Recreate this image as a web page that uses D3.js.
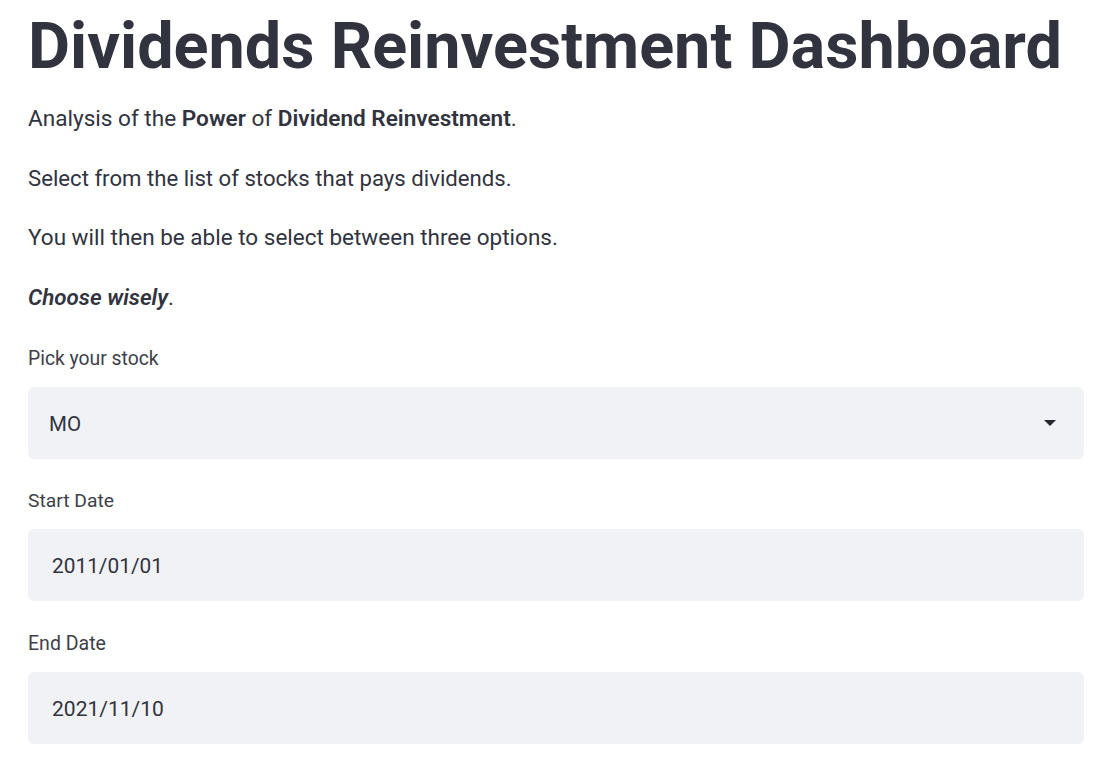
<!DOCTYPE html>
<html><head><meta charset="utf-8">
<script src="https://cdn.jsdelivr.net/npm/d3@7"></script>
<style>html,body{margin:0;padding:0;background:#fff;overflow:hidden}</style>
</head><body>
<svg id="c" width="1106" height="765"></svg>
<script>
const titleText = "Dividends Reinvestment Dashboard";
const introParts = [["Analysis of the ",400],["Power",600],[" of ",400],["Dividend Reinvestment",600],[".",400]];
const paragraphs = ["Select from the list of stocks that pays dividends.","You will then be able to select between three options."];
const emphText = [["Choose wisely",600,"italic"],[".",400,"normal"]];
const widgetLabels = ["Pick your stock","Start Date","End Date"];
const widgetValues = ["MO","2011/01/01","2021/11/10"];

const svg = d3.select("#c");
const FONT = "'Source Sans Pro', Roboto, 'Noto Sans', sans-serif";
const INK = "#31333F";

function fit(sel, target){
  const fs = parseFloat(sel.attr("font-size"));
  const w = sel.node().getBBox().width;
  sel.attr("font-size", fs*target/w);
}
function line(x, y, parts, size, target){
  const t = svg.append("text").attr("x",x).attr("y",y).attr("font-family",FONT)
    .attr("font-size",size).attr("fill",INK);
  t.selectAll("tspan").data(parts).join("tspan")
    .text(d=>d[0]).attr("font-weight",d=>d[1]).attr("font-style",d=>d[2]||"normal");
  fit(t, target);
  return t;
}

// title
line(28, 68, [[titleText,700]], 66, 1034);
// paragraphs
line(28, 126, introParts, 22, 489);
const pY = [186, 245], pW = [484, 530];
paragraphs.forEach((p,i)=>line(28, pY[i], [[p,400]], 22, pW[i]));
line(28, 305, emphText, 22, 146);

// widgets
const labelY = [365, 507, 650];
const labelW = [131, 86, 78];
const boxTop = d3.scaleOrdinal().domain(widgetLabels).range([387, 529, 672]);
const valX = [49, 52, 52];
const valW = [32, 111, 112];
widgetLabels.forEach((lab,i)=>{
  line(28, labelY[i], [[lab,400]], 19, labelW[i]).attr("fill","#3d3f4a");
  const y0 = boxTop(lab);
  svg.append("rect").attr("x",28).attr("y",y0).attr("width",1056).attr("height",72)
    .attr("rx",6).attr("fill","#F0F2F6");
  line(valX[i], y0+44, [[widgetValues[i],400]], 20, valW[i]);
  if(i===0){
    svg.append("path").attr("d",`M${1044},${y0+33}L${1056},${y0+33}L${1050},${y0+39}Z`).attr("fill","#262730");
  }
});
</script>
</body></html>
